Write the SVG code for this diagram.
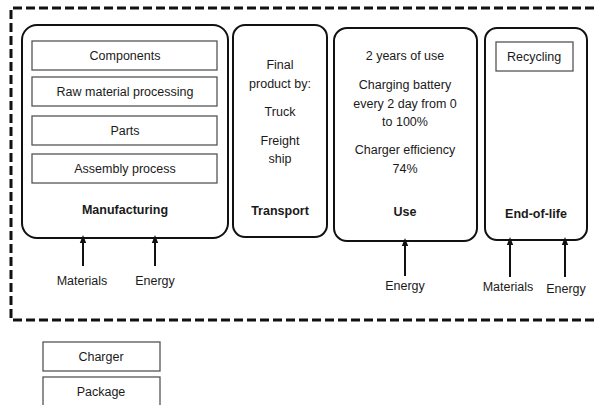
<svg xmlns="http://www.w3.org/2000/svg" width="597" height="405" viewBox="0 0 597 405">
  <style>
    text { font-family: "Liberation Sans", Arial, sans-serif; font-size: 12.5px; fill: #1a1a1a; text-anchor: middle; }
    .b { font-weight: bold; }
    .stage { fill: #fff; stroke: #111; stroke-width: 2; }
    .item { fill: #fff; stroke: #555; stroke-width: 1.3; }
    .flow { stroke: #111; stroke-width: 2; fill: none; marker-end: url(#head); }
    .bound { fill: none; stroke: #111; stroke-width: 3; stroke-dasharray: 9 4; }
  </style>
  <defs>
    <marker id="head" markerWidth="8" markerHeight="8" refX="4" refY="4" orient="auto" markerUnits="userSpaceOnUse">
      <path d="M0,0.8 L8,4 L0,7.2 Z" fill="#111"/>
    </marker>
  </defs>
  <rect width="597" height="405" fill="#fff"/>

  <!-- system boundary (open on the right) -->
  <path class="bound" d="M620,8 H11 V320 H620"/>

  <g id="manufacturing">
    <rect class="stage" x="22" y="25" width="206" height="213" rx="15"/>
    <rect class="item" x="32" y="41" width="185" height="29"/>
    <text x="125" y="60">Components</text>
    <rect class="item" x="32" y="77" width="185" height="29"/>
    <text x="125" y="96">Raw material processing</text>
    <rect class="item" x="32" y="116" width="185" height="29"/>
    <text x="125" y="135">Parts</text>
    <rect class="item" x="32" y="154" width="185" height="29"/>
    <text x="125" y="173">Assembly process</text>
    <text class="b" x="125" y="214">Manufacturing</text>
  </g>

  <g id="transport">
    <rect class="stage" x="233" y="25" width="94" height="212" rx="12"/>
    <text x="280" y="69">Final</text>
    <text x="280" y="88">product by:</text>
    <text x="280" y="116">Truck</text>
    <text x="280" y="145">Freight</text>
    <text x="280" y="163">ship</text>
    <text class="b" x="280" y="215">Transport</text>
  </g>

  <g id="use">
    <rect class="stage" x="334" y="28" width="143" height="213" rx="13"/>
    <text x="405" y="60">2 years of use</text>
    <text x="405" y="89">Charging battery</text>
    <text x="405" y="108">every 2 day from 0</text>
    <text x="405" y="126">to 100%</text>
    <text x="405" y="154">Charger efficiency</text>
    <text x="405" y="173">74%</text>
    <text class="b" x="405" y="216">Use</text>
  </g>

  <g id="end-of-life">
    <rect class="stage" x="485" y="28" width="102" height="212" rx="12"/>
    <rect class="item" x="496" y="42" width="77" height="29"/>
    <text x="534" y="61">Recycling</text>
    <text class="b" x="536" y="218">End-of-life</text>
  </g>

  <g id="inputs">
    <text x="82" y="285">Materials</text>
    <text x="155" y="285">Energy</text>
    <text x="405" y="290">Energy</text>
    <text x="508" y="291">Materials</text>
    <text x="566" y="293">Energy</text>
  </g>

  <g id="charger">
    <rect class="item" x="43" y="342" width="117" height="29"/>
    <text x="101" y="361">Charger</text>
  </g>
  <g id="package">
    <rect class="item" x="43" y="377" width="117" height="32"/>
    <text x="101" y="396">Package</text>
  </g>

  <g id="connectors">
    <line class="flow" x1="83" y1="266" x2="83" y2="239"/>
    <line class="flow" x1="155" y1="266" x2="155" y2="239"/>
    <line class="flow" x1="405" y1="276" x2="405" y2="242"/>
    <line class="flow" x1="510" y1="277" x2="510" y2="241"/>
    <line class="flow" x1="565" y1="277" x2="565" y2="241"/>
  </g>
</svg>
